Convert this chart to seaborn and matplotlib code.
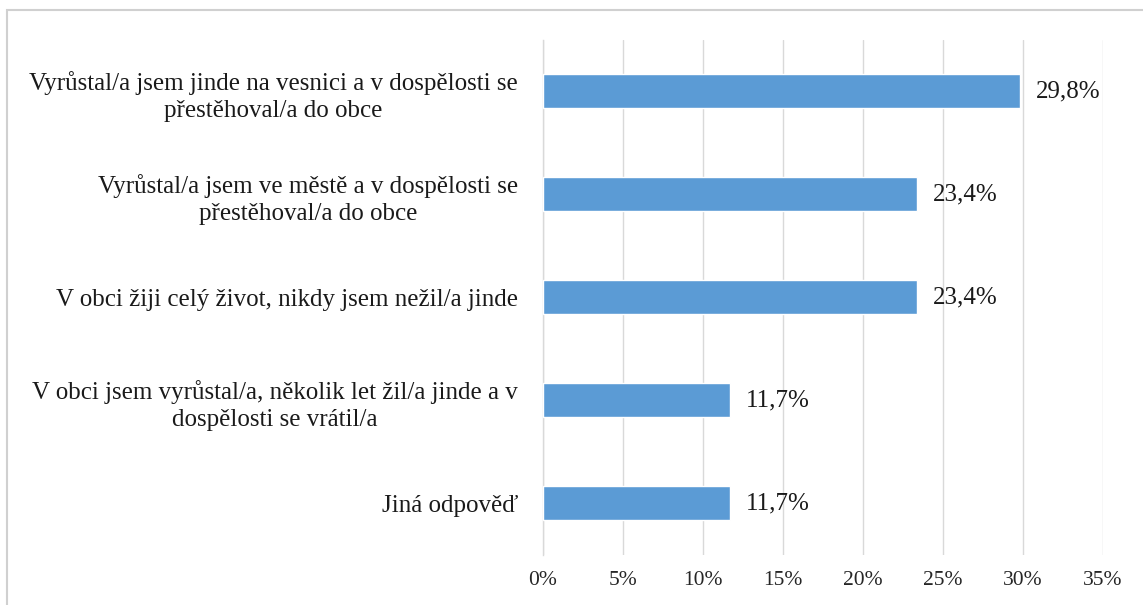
import numpy as np
import pandas as pd
import matplotlib
matplotlib.use('Agg')
import matplotlib.pyplot as plt
import seaborn as sns
from matplotlib.patches import Rectangle

# data
categories = [
    "Vyrůstal/a jsem jinde na vesnici a v dospělosti se\npřestěhoval/a do obce",
    "Vyrůstal/a jsem ve městě a v dospělosti se\npřestěhoval/a do obce",
    "V obci žiji celý život, nikdy jsem nežil/a jinde",
    "V obci jsem vyrůstal/a, několik let žil/a jinde a v\ndospělosti se vrátil/a",
    "Jiná odpověď",
]
shares = [29.8, 23.4, 23.4, 11.7, 11.7]
tick_values = [0, 5, 10, 15, 20, 25, 30, 35]

df = pd.DataFrame({'Odpověď': categories, 'Podíl': shares})

sns.set_theme(style='white')
plt.rcParams['font.family'] = ['Liberation Serif', 'DejaVu Serif']

fig = plt.figure(figsize=(11.43, 6.05), dpi=100)
ax = fig.add_axes([0.475, 0.083, 0.49, 0.851])

sns.barplot(data=df, x='Podíl', y='Odpověď', orient='h', color='#5B9BD5',
            width=0.33, saturation=1, ax=ax, zorder=3)

ax.set_xlim(0, 35)
ax.set_xticks(tick_values)
ax.set_xticklabels([f"{v}%" for v in tick_values], fontsize=15.5, color='#262626')
ax.xaxis.grid(True, color='#d9d9d9', linewidth=1, zorder=0)
ax.yaxis.grid(False)
ax.set_xlabel('')
ax.set_ylabel('')

for lbl in ax.get_yticklabels():
    lbl.set_multialignment('center')
    lbl.set_fontsize(18)
    lbl.set_linespacing(1.3)
    lbl.set_color('#1a1a1a')
ax.tick_params(axis='y', length=0, pad=18)
ax.tick_params(axis='x', length=0, pad=12)

for s in ['top', 'right', 'bottom']:
    ax.spines[s].set_visible(False)
ax.spines['left'].set_color('#d9d9d9')
ax.spines['left'].set_linewidth(1)

for i, v in enumerate(shares):
    ax.text(v + 1.0, i, f"{v:.1f}%".replace('.', ','), va='center', ha='left',
            fontsize=18, color='#1a1a1a')

# light frame around the chart area
fig.patches.append(Rectangle((7 / 1143, -0.05), 1.1, 1.05 - 10 / 605,
                             transform=fig.transFigure, fill=False,
                             edgecolor='#d0d0d0', linewidth=1.5))

plt.savefig('out.png', dpi=100)
plt.close()
